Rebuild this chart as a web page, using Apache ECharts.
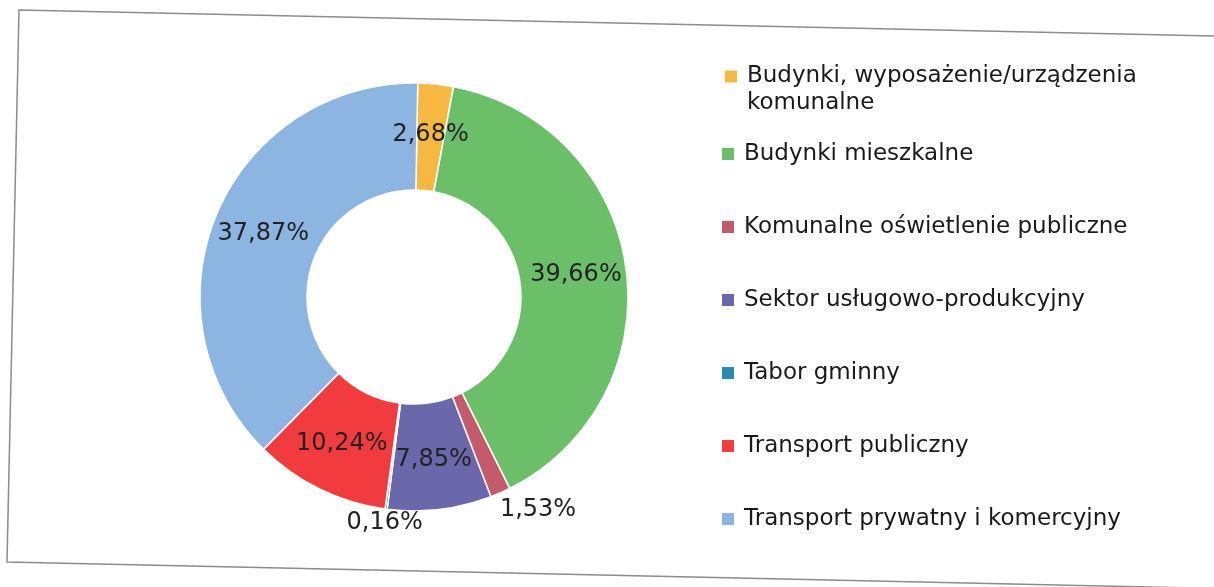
<!DOCTYPE html>
<html>
<head>
<meta charset="utf-8">
<script src="https://cdn.jsdelivr.net/npm/echarts@6/dist/echarts.min.js"></script>
<style>
    html, body { margin: 0; padding: 0; background: #fff; }
    #chart { width: 1214px; height: 587px; }
</style>
</head>
<body>
<div id="chart"></div>
<script>
var categories = [
    'Budynki, wyposażenie/urządzenia komunalne',
    'Budynki mieszkalne',
    'Komunalne oświetlenie publiczne',
    'Sektor usługowo-produkcyjny',
    'Tabor gminny',
    'Transport publiczny',
    'Transport prywatny i komercyjny'
];
var shares = [2.68, 39.66, 1.53, 7.85, 0.16, 10.24, 37.87];
var colors = ['#f7b841', '#6bbf69', '#c55a6b', '#6a67aa', '#2a8cb0', '#f23b3e', '#8db5e2'];

var chart = echarts.init(document.getElementById('chart'));

// the two thin slices get their labels pushed out of the ring
var labelOffsets = {
    'Komunalne oświetlenie publiczne': [58, 63],
    'Tabor gminny': [-8, 64]
};

var pieData = categories.map(function (name, i) {
    var item = {
        name: name,
        value: shares[i],
        itemStyle: { color: colors[i] }
    };
    if (labelOffsets[name]) {
        item.label = { offset: labelOffsets[name] };
    }
    return item;
});

var legendText = {
    fontFamily: 'DejaVu Sans',
    fontSize: 23,
    color: '#1a1a1a',
    lineHeight: 28,
    padding: [0, 0, 0, 4]
};

var option = {
    backgroundColor: '#fff',
    graphic: [{
        type: 'polygon',
        shape: { points: [[19, 10], [1240, 36.5], [1240, 589], [7, 562]] },
        style: { fill: 'none', stroke: '#8c8c8c', lineWidth: 1.5 },
        silent: true
    }],
    legend: [
        {
            orient: 'vertical',
            left: 723,
            top: 36,
            padding: 0,
            itemWidth: 14,
            itemHeight: 14,
            icon: 'rect',
            selectedMode: false,
            data: [categories[0]],
            // empty first line keeps the marker level with the first text line
            formatter: function () {
                return '\nBudynki, wyposażenie/urządzenia\nkomunalne';
            },
            textStyle: Object.assign({}, legendText, { lineHeight: 27 })
        },
        {
            orient: 'vertical',
            left: 720,
            top: 140,
            padding: 0,
            itemWidth: 14,
            itemHeight: 14,
            itemGap: 45,
            icon: 'rect',
            selectedMode: false,
            data: categories.slice(1),
            textStyle: legendText
        }
    ],
    series: [
        {
            name: 'Udział',
            type: 'pie',
            center: [414, 297],
            radius: [107, 214],
            startAngle: 89,
            clockwise: true,
            avoidLabelOverlap: false,
            itemStyle: {
                borderColor: '#fff',
                borderWidth: 1.5
            },
            label: {
                show: true,
                position: 'inside',
                fontFamily: 'DejaVu Sans',
                fontSize: 24,
                color: '#222',
                formatter: function (p) {
                    return p.value.toFixed(2).replace('.', ',') + '%';
                }
            },
            labelLine: { show: false },
            emphasis: { disabled: true },
            data: pieData
        }
    ]
};

chart.setOption(option);
</script>
</body>
</html>
